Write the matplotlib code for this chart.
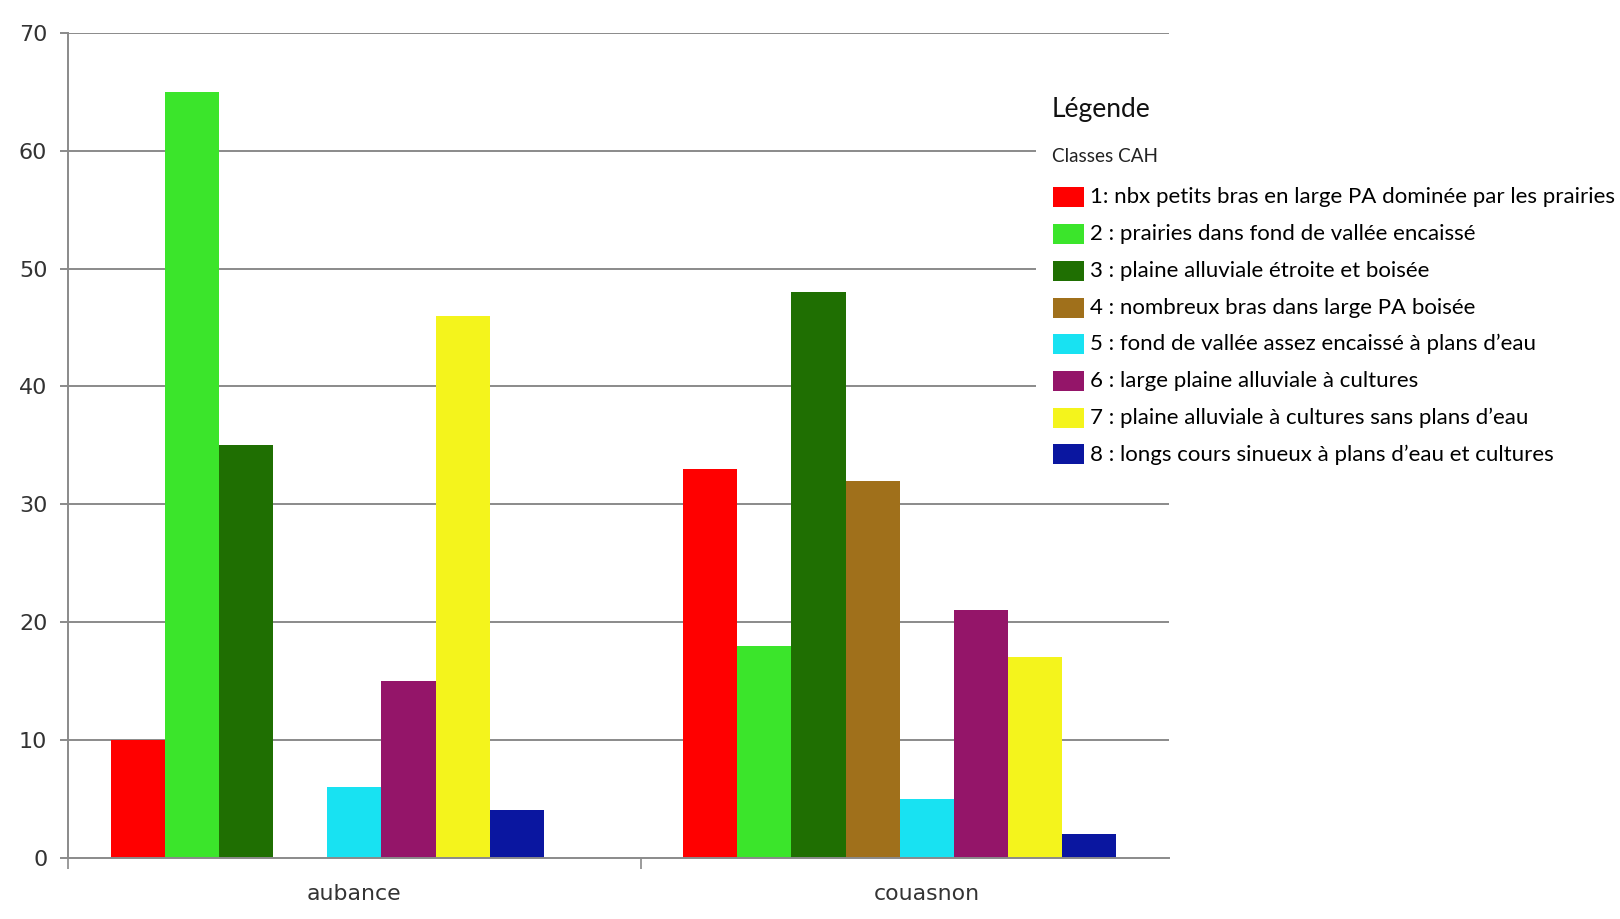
import matplotlib
matplotlib.use("Agg")
import matplotlib.pyplot as plt
from matplotlib.patches import Rectangle
import numpy as np

categories = ["aubance", "couasnon"]
class_labels = [
    "1: nbx petits bras en large PA dominée par les prairies",
    "2 : prairies dans fond de vallée encaissé",
    "3 : plaine alluviale étroite et boisée",
    "4 : nombreux bras dans large PA boisée",
    "5 : fond de vallée assez encaissé à plans d\u2019eau",
    "6 : large plaine alluviale à cultures",
    "7 : plaine alluviale à cultures sans plans d\u2019eau",
    "8 : longs cours sinueux à plans d\u2019eau et cultures",
]
colors = ["#ff0000", "#3be52b", "#1f6f02", "#a0701b", "#18e2f2", "#941569", "#f4f41c", "#0a16a0"]
aubance = [10, 65, 35, 0, 6, 15, 46, 4]
couasnon = [33, 18, 48, 32, 5, 21, 17, 2]
yticks = [0, 10, 20, 30, 40, 50, 60, 70]

W, H = 1620, 919
fig = plt.figure(figsize=(W / 100, H / 100), dpi=100)
fig.patch.set_facecolor("white")

ax = fig.add_axes([68.2 / W, 1 - 857.6 / H, (1168.6 - 68.2) / W, (857.6 - 33.0) / H])
ax.set_facecolor("white")

grid_c = "#8a8a8a"
for y in yticks[1:]:
    ax.axhline(y, color=grid_c, lw=1.4, zorder=0)

x = np.arange(len(categories))
w = 0.0946
values = np.array([aubance, couasnon])
for i, c in enumerate(colors):
    ax.bar(x + (i - 4) * w, values[:, i], width=w, color=c, linewidth=0, zorder=2)

ax.set_yticks(yticks)
ax.set_yticklabels([str(v) for v in yticks])
ax.set_xticks(x)
ax.set_xticklabels(categories)
ax.set_xticks([-0.5, 0.5], minor=True)
ax.set_xlim(-0.5, 1.4224)
ax.set_ylim(0, 70)

for s in ["top", "right"]:
    ax.spines[s].set_visible(False)
for s in ["left", "bottom"]:
    ax.spines[s].set_color(grid_c)
    ax.spines[s].set_linewidth(1.4)

ax.tick_params(axis="y", length=6, width=1.4, color=grid_c, pad=9, labelsize=16, labelcolor="#333333")
ax.tick_params(axis="x", which="major", length=0, pad=19, labelsize=15.8, labelcolor="#333333")
ax.tick_params(axis="x", which="minor", length=8, width=1.2, color=grid_c)

# legend
def fx(px):
    return px / W

def fy(py):
    return 1 - py / H

fig.patches.append(Rectangle((fx(1036), fy(470)), fx(1620) - fx(1036), fy(80) - fy(470),
                             transform=fig.transFigure, facecolor="white", edgecolor="none", zorder=5))
lfont = "Lato"
fig.text(fx(1052), fy(109.5), "Légende", fontsize=19, family=lfont, color="#111111", va="center", ha="left", zorder=6)
fig.text(fx(1052), fy(157), "Classes CAH", fontsize=13.6, family=lfont, color="#222222", va="center", ha="left", zorder=6)
y0 = 197.3
step = 36.74
for i, (lab, c) in enumerate(zip(class_labels, colors)):
    yc = y0 + i * step
    fig.patches.append(Rectangle((fx(1052.5), fy(yc + 10)), fx(31.5), 20 / H,
                                 transform=fig.transFigure, facecolor=c, edgecolor="none", zorder=6))
    fig.text(fx(1090.5), fy(yc), lab, fontsize=16.0, family=lfont, color="black", va="center", ha="left", zorder=6)

fig.savefig("out.png", dpi=100, facecolor="white")
